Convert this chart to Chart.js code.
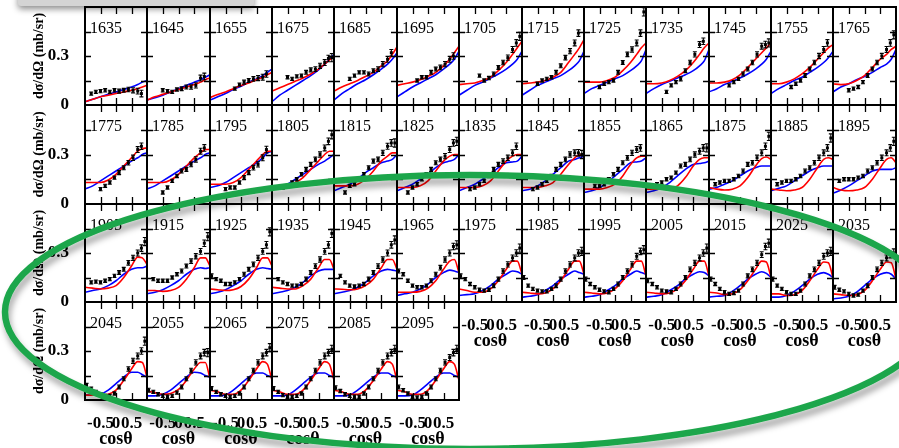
<!doctype html>
<html>
<head>
<meta charset="utf-8">
<script src="https://cdn.jsdelivr.net/npm/chart.js@4/dist/chart.umd.min.js"></script>
<style>
  html, body { margin: 0; padding: 0; background: #fff; }
  #stage { position: relative; width: 899px; height: 448px; overflow: hidden; }
  #stage canvas { position: absolute; }
  #tab { position: absolute; left: 18px; top: -8px; width: 236px; height: 14px; background: #d4d4d4;
         border-radius: 3px; box-shadow: 0 3px 6px rgba(0,0,0,0.45); z-index: 5; }
  #ring { position: absolute; left: 0; top: 0; pointer-events: none; z-index: 10; }
</style>
</head>
<body>
<div id="stage">
  <div id="tab"></div>
  <svg id="ring" width="899" height="448">
    <defs>
      <filter id="sh" x="-10%" y="-20%" width="120%" height="150%">
        <feDropShadow dx="2" dy="6" stdDeviation="3" flood-color="#000" flood-opacity="0.35"/>
      </filter>
    </defs>
    <ellipse cx="470" cy="312" rx="465" ry="137" fill="none" stroke="#1fa64b" stroke-width="6.5" filter="url(#sh)"/>
  </svg>
</div>
<script>
const n = null;
const energies = [1635,1645,1655,1675,1685,1695,1705,1715,1725,1735,1745,1755,1765,
                  1775,1785,1795,1805,1815,1825,1835,1845,1855,1865,1875,1885,1895,
                  1905,1915,1925,1935,1945,1965,1975,1985,1995,2005,2015,2025,2035,
                  2045,2055,2065,2075,2085,2095];
const dataCos  = [-0.95,-0.8,-0.65,-0.5,-0.35,-0.2,-0.05,0.1,0.25,0.4,0.55,0.7,0.82,0.93];
const dataErr  = [0.012,0.01,0.01,0.01,0.01,0.01,0.01,0.012,0.012,0.014,0.016,0.018,0.02,0.025];
const curveCos = [-1,-0.75,-0.5,-0.25,0,0.25,0.5,0.7,0.85,1];
const xTicks = [-0.5, 0, 0.5];
const yTicks = [0, 0.3];

const measured = [
  [n,0.07,0.08,0.085,0.09,0.08,0.09,0.085,0.09,0.095,0.09,0.085,0.07,n],
  [n,n,n,0.09,0.085,0.08,0.095,0.1,0.11,0.11,0.12,0.165,0.175,n],
  [n,n,n,n,n,0.1,0.125,0.14,0.15,0.16,0.165,0.17,0.19,n],
  [n,n,n,0.17,0.16,0.175,0.18,0.2,0.215,0.22,0.24,0.26,0.285,0.29],
  [n,n,n,0.16,0.18,0.2,0.2,0.19,0.21,0.22,0.25,0.28,0.32,n],
  [n,n,n,n,0.15,0.17,0.17,0.2,0.22,0.23,0.25,0.28,0.3,n],
  [n,n,n,n,0.18,0.15,0.165,0.19,0.23,0.26,0.29,0.34,0.38,0.42],
  [n,n,n,0.13,0.15,0.16,0.17,0.2,0.24,0.29,0.33,0.38,0.44,n],
  [n,n,n,0.11,0.13,0.14,0.15,0.2,0.26,0.31,0.34,0.38,0.44,0.57],
  [n,n,n,n,0.08,0.12,0.14,0.16,0.21,0.26,0.31,0.37,0.39,n],
  [n,n,n,n,0.12,0.14,0.16,0.19,0.22,0.26,0.31,0.36,0.37,0.38],
  [n,n,n,n,0.11,0.13,0.15,0.18,0.22,0.26,0.3,0.34,0.38,n],
  [n,n,n,0.09,0.1,0.11,0.14,0.18,0.22,0.26,0.3,0.34,0.38,0.43],
  [n,n,n,0.09,0.11,0.13,0.16,0.19,0.22,0.25,0.28,0.33,0.35,n],
  [n,n,n,0.07,0.1,0.14,0.17,0.2,0.21,0.24,0.27,0.32,0.34,n],
  [n,n,n,0.09,0.1,0.1,0.13,0.16,0.19,0.22,0.24,0.28,0.33,n],
  [n,n,0.1,0.11,0.13,0.15,0.18,0.21,0.24,0.27,0.3,0.34,0.38,0.42],
  [n,n,0.07,0.11,0.12,0.15,0.18,0.22,0.26,0.27,0.31,0.35,0.37,0.37],
  [n,n,0.07,0.1,0.12,0.15,0.18,0.21,0.25,0.27,0.29,0.33,0.37,0.38],
  [n,n,0.09,0.1,0.12,0.14,0.17,0.21,0.24,0.26,0.28,0.31,0.35,n],
  [n,n,0.09,0.1,0.12,0.14,0.17,0.21,0.24,0.27,0.3,0.31,0.31,0.3],
  [n,n,0.11,0.11,0.12,0.15,0.18,0.21,0.25,0.28,0.31,0.33,0.34,n],
  [n,0.11,0.12,0.13,0.15,0.16,0.19,0.23,0.24,0.27,0.3,0.32,0.34,0.34],
  [n,0.12,0.13,0.14,0.14,0.15,0.17,0.2,0.24,0.25,0.28,0.31,0.35,0.41],
  [n,0.12,0.13,0.14,0.14,0.15,0.17,0.2,0.22,0.25,0.28,0.31,0.34,0.4],
  [n,0.14,0.15,0.15,0.15,0.16,0.17,0.2,0.22,0.25,0.28,0.31,0.34,0.38],
  [n,0.12,0.125,0.12,0.13,0.14,0.16,0.18,0.2,0.24,0.27,0.3,0.33,0.37],
  [n,0.14,0.13,0.13,0.13,0.15,0.17,0.19,0.22,0.25,0.28,0.31,0.36,0.4],
  [0.16,0.14,0.13,0.11,0.11,0.12,0.14,0.17,0.2,0.23,0.27,0.31,0.35,0.43],
  [n,0.14,0.12,0.11,0.1,0.1,0.11,0.14,0.18,0.22,0.26,0.31,0.35,0.42],
  [n,0.16,0.12,0.1,0.095,0.1,0.11,0.14,0.18,0.22,0.26,0.3,0.35,0.38],
  [0.19,0.17,0.13,0.1,0.09,0.09,0.1,0.13,0.17,0.21,0.26,0.3,0.34,0.35],
  [0.16,0.14,0.11,0.09,0.075,0.07,0.075,0.1,0.14,0.19,0.23,0.27,0.3,0.33],
  [0.15,0.1,0.08,0.07,0.065,0.065,0.08,0.1,0.14,0.19,0.23,0.27,0.3,0.31],
  [0.14,0.11,0.09,0.075,0.065,0.06,0.08,0.11,0.15,0.19,0.23,0.28,0.31,0.32],
  [0.13,0.11,0.09,0.07,0.065,0.06,0.08,0.11,0.15,0.2,0.24,0.27,0.3,0.33],
  [0.14,0.11,0.08,0.06,0.05,0.055,0.07,0.11,0.16,0.2,0.24,0.29,0.34,0.36],
  [0.14,0.1,0.08,0.06,0.05,0.05,0.07,0.11,0.16,0.2,0.24,0.28,0.3,0.31],
  [0.09,0.075,0.065,0.05,0.04,0.045,0.07,0.1,0.15,0.2,0.24,0.27,0.29,0.3],
  [0.09,0.07,0.05,0.035,0.025,0.025,0.04,0.08,0.13,0.19,0.24,0.27,0.3,0.36],
  [0.06,0.05,0.035,0.025,0.02,0.025,0.045,0.08,0.13,0.18,0.23,0.27,0.29,0.29],
  [0.07,0.05,0.035,0.025,0.02,0.025,0.04,0.08,0.13,0.18,0.23,0.27,0.29,0.32],
  [0.07,0.05,0.03,0.02,0.02,0.025,0.04,0.08,0.13,0.18,0.23,0.27,0.29,0.31],
  [0.075,0.055,0.035,0.025,0.02,0.02,0.04,0.08,0.13,0.18,0.23,0.27,0.29,0.31],
  [0.08,0.06,0.04,0.02,0.015,0.02,0.04,0.08,0.13,0.18,0.23,0.26,0.29,0.31]
];

const redFit = [
  [0.02,0.035,0.05,0.06,0.07,0.08,0.09,0.1,0.11,0.12],
  [0.03,0.05,0.065,0.08,0.095,0.11,0.125,0.14,0.155,0.165],
  [0.045,0.065,0.08,0.1,0.12,0.135,0.155,0.17,0.185,0.2],
  [0.085,0.105,0.125,0.145,0.165,0.19,0.22,0.25,0.275,0.3],
  [0.085,0.11,0.13,0.15,0.175,0.2,0.24,0.27,0.31,0.355],
  [0.12,0.13,0.14,0.155,0.175,0.2,0.24,0.28,0.32,0.36],
  [0.125,0.13,0.135,0.15,0.17,0.21,0.26,0.31,0.35,0.39],
  [0.13,0.135,0.14,0.15,0.17,0.2,0.26,0.31,0.35,0.4],
  [0.14,0.14,0.14,0.15,0.17,0.21,0.26,0.31,0.35,0.38],
  [0.13,0.13,0.135,0.15,0.175,0.21,0.26,0.31,0.35,0.38],
  [0.135,0.135,0.14,0.155,0.185,0.23,0.28,0.32,0.35,0.38],
  [0.13,0.13,0.14,0.16,0.19,0.23,0.28,0.32,0.35,0.37],
  [0.13,0.125,0.13,0.15,0.18,0.23,0.28,0.31,0.34,0.36],
  [0.13,0.13,0.13,0.145,0.18,0.23,0.28,0.32,0.335,0.34],
  [0.13,0.13,0.13,0.145,0.18,0.23,0.28,0.31,0.33,0.33],
  [0.12,0.12,0.12,0.13,0.16,0.21,0.26,0.3,0.32,0.32],
  [0.11,0.11,0.115,0.13,0.16,0.21,0.26,0.3,0.32,0.32],
  [0.11,0.11,0.11,0.12,0.15,0.2,0.26,0.29,0.31,0.31],
  [0.1,0.1,0.1,0.11,0.14,0.2,0.26,0.29,0.3,0.3],
  [0.1,0.1,0.1,0.11,0.14,0.2,0.26,0.29,0.3,0.3],
  [0.1,0.1,0.1,0.11,0.13,0.18,0.24,0.28,0.3,0.3],
  [0.09,0.09,0.09,0.1,0.12,0.17,0.24,0.28,0.29,0.29],
  [0.09,0.09,0.09,0.095,0.11,0.16,0.23,0.27,0.28,0.28],
  [0.1,0.09,0.085,0.09,0.11,0.16,0.23,0.275,0.285,0.27],
  [0.09,0.085,0.08,0.085,0.1,0.15,0.22,0.27,0.28,0.27],
  [0.1,0.085,0.08,0.085,0.1,0.15,0.22,0.27,0.28,0.25],
  [0.09,0.085,0.08,0.085,0.1,0.15,0.22,0.275,0.27,0.23],
  [0.07,0.07,0.065,0.07,0.09,0.14,0.21,0.27,0.27,0.22],
  [0.08,0.075,0.07,0.075,0.095,0.14,0.21,0.27,0.27,0.22],
  [0.09,0.085,0.08,0.08,0.1,0.14,0.21,0.26,0.26,0.2],
  [0.08,0.078,0.075,0.08,0.1,0.14,0.21,0.26,0.26,0.2],
  [0.06,0.06,0.06,0.065,0.085,0.13,0.2,0.25,0.26,0.18],
  [0.08,0.07,0.06,0.06,0.08,0.13,0.2,0.25,0.25,0.17],
  [0.06,0.055,0.05,0.055,0.08,0.13,0.2,0.25,0.25,0.17],
  [0.06,0.055,0.05,0.055,0.08,0.13,0.2,0.25,0.25,0.16],
  [0.06,0.055,0.05,0.055,0.08,0.13,0.2,0.25,0.25,0.16],
  [0.06,0.055,0.045,0.05,0.075,0.13,0.2,0.25,0.245,0.15],
  [0.05,0.05,0.04,0.045,0.07,0.13,0.2,0.245,0.24,0.15],
  [0.05,0.045,0.04,0.045,0.07,0.13,0.2,0.245,0.24,0.14],
  [0.03,0.03,0.03,0.035,0.06,0.12,0.19,0.235,0.23,0.14],
  [0.055,0.045,0.035,0.04,0.065,0.12,0.19,0.23,0.23,0.13],
  [0.06,0.05,0.035,0.035,0.06,0.12,0.19,0.235,0.22,0.12],
  [0.06,0.05,0.035,0.035,0.06,0.12,0.19,0.235,0.22,0.12],
  [0.06,0.05,0.035,0.035,0.06,0.12,0.19,0.235,0.22,0.12],
  [0.06,0.05,0.035,0.035,0.06,0.12,0.19,0.235,0.22,0.12]
];

const blueFit = [
  [0.02,0.035,0.05,0.065,0.08,0.095,0.11,0.125,0.14,0.15],
  [0.03,0.045,0.06,0.08,0.1,0.12,0.14,0.155,0.17,0.185],
  [0.03,0.05,0.07,0.095,0.115,0.14,0.16,0.18,0.2,0.22],
  [0.02,0.06,0.09,0.12,0.15,0.18,0.215,0.25,0.28,0.31],
  [0.03,0.07,0.1,0.13,0.155,0.185,0.22,0.25,0.28,0.32],
  [0.05,0.08,0.11,0.135,0.16,0.185,0.22,0.25,0.28,0.33],
  [0.06,0.09,0.12,0.14,0.165,0.19,0.22,0.25,0.28,0.33],
  [0.06,0.09,0.12,0.14,0.16,0.18,0.21,0.24,0.27,0.33],
  [0.07,0.1,0.12,0.14,0.16,0.18,0.21,0.24,0.27,0.34],
  [0.07,0.1,0.125,0.145,0.165,0.185,0.21,0.24,0.27,0.34],
  [0.08,0.1,0.125,0.145,0.165,0.19,0.22,0.25,0.28,0.33],
  [0.07,0.1,0.125,0.15,0.17,0.2,0.23,0.26,0.29,0.33],
  [0.08,0.11,0.13,0.155,0.175,0.2,0.23,0.25,0.28,0.34],
  [0.09,0.11,0.14,0.17,0.2,0.23,0.26,0.28,0.3,0.31],
  [0.09,0.11,0.14,0.17,0.2,0.23,0.26,0.28,0.3,0.31],
  [0.1,0.11,0.13,0.16,0.19,0.22,0.25,0.28,0.31,0.32],
  [0.09,0.1,0.12,0.15,0.18,0.21,0.24,0.26,0.28,0.3],
  [0.08,0.1,0.12,0.15,0.19,0.22,0.25,0.26,0.27,0.3],
  [0.08,0.1,0.12,0.15,0.18,0.22,0.25,0.26,0.27,0.3],
  [0.08,0.1,0.12,0.15,0.18,0.22,0.25,0.255,0.26,0.29],
  [0.08,0.09,0.11,0.14,0.18,0.22,0.26,0.27,0.28,0.29],
  [0.07,0.08,0.1,0.13,0.17,0.21,0.25,0.255,0.26,0.28],
  [0.07,0.08,0.1,0.13,0.17,0.21,0.24,0.245,0.25,0.26],
  [0.09,0.1,0.12,0.14,0.17,0.2,0.22,0.23,0.23,0.23],
  [0.08,0.095,0.11,0.14,0.17,0.2,0.22,0.23,0.23,0.23],
  [0.065,0.085,0.11,0.14,0.17,0.2,0.21,0.21,0.21,0.22],
  [0.06,0.07,0.08,0.1,0.13,0.17,0.2,0.21,0.21,0.22],
  [0.05,0.06,0.075,0.1,0.13,0.17,0.2,0.21,0.205,0.21],
  [0.05,0.06,0.075,0.1,0.13,0.17,0.2,0.21,0.205,0.2],
  [0.05,0.06,0.07,0.09,0.12,0.16,0.19,0.2,0.2,0.2],
  [0.05,0.06,0.07,0.09,0.12,0.16,0.19,0.2,0.195,0.19],
  [0.04,0.05,0.06,0.08,0.11,0.15,0.18,0.195,0.19,0.18],
  [0.04,0.045,0.05,0.07,0.1,0.14,0.17,0.19,0.185,0.17],
  [0.03,0.035,0.045,0.07,0.1,0.14,0.17,0.19,0.18,0.17],
  [0.03,0.035,0.045,0.07,0.1,0.14,0.17,0.19,0.18,0.17],
  [0.03,0.035,0.045,0.07,0.1,0.14,0.17,0.185,0.18,0.16],
  [0.03,0.035,0.04,0.065,0.1,0.14,0.17,0.185,0.175,0.15],
  [0.03,0.03,0.04,0.065,0.1,0.14,0.17,0.18,0.17,0.15],
  [0.02,0.025,0.035,0.06,0.1,0.14,0.17,0.18,0.17,0.14],
  [0.03,0.03,0.035,0.06,0.1,0.14,0.17,0.17,0.155,0.14],
  [0.025,0.025,0.035,0.06,0.1,0.14,0.17,0.165,0.15,0.14],
  [0.025,0.025,0.03,0.06,0.1,0.14,0.165,0.165,0.15,0.14],
  [0.025,0.025,0.03,0.06,0.1,0.14,0.165,0.165,0.15,0.14],
  [0.025,0.025,0.03,0.06,0.1,0.14,0.165,0.165,0.15,0.14],
  [0.025,0.025,0.03,0.06,0.1,0.14,0.165,0.165,0.15,0.14]
];

// grid geometry of the panel matrix
const COLS = 13, X0 = 85, PW = 62.36, Y0 = 7, PH = 98.3;
const colX = c => Math.round(X0 + PW * c);
const rowY = r => Math.round(Y0 + PH * r);
const serif = "'Liberation Serif', 'Times New Roman', serif";
const stage = document.getElementById('stage');
const ring = document.getElementById('ring');

// frame, inward ticks and energy label
function framePlugin(label) {
  return {
    id: 'frame',
    afterDatasetsDraw(chart) {
      const {ctx, chartArea: a, scales: {x, y}} = chart;
      ctx.save();
      ctx.strokeStyle = '#000';
      ctx.lineWidth = 1.3;
      ctx.beginPath();
      xTicks.forEach(v => {
        const px = Math.round(x.getPixelForValue(v)) + 0.5;
        ctx.moveTo(px, a.top); ctx.lineTo(px, a.top + 7);
        ctx.moveTo(px, a.bottom); ctx.lineTo(px, a.bottom - 7);
      });
      [0.15, 0.3, 0.45].forEach(v => {
        const py = Math.round(y.getPixelForValue(v)) + 0.5;
        ctx.moveTo(a.left, py); ctx.lineTo(a.left + 6, py);
        ctx.moveTo(a.right, py); ctx.lineTo(a.right - 6, py);
      });
      ctx.stroke();
      ctx.lineWidth = 2;
      ctx.strokeRect(a.left, a.top, a.right - a.left, a.bottom - a.top);
      ctx.fillStyle = '#000';
      ctx.font = '16px ' + serif;
      ctx.textBaseline = 'alphabetic';
      ctx.fillText(label, a.left + 5, a.top + 26);
      ctx.restore();
    }
  };
}

const errorBars = {
  id: 'errorBars',
  afterDatasetsDraw(chart) {
    const {ctx, scales: {x, y}} = chart;
    ctx.save();
    ctx.strokeStyle = '#000';
    ctx.lineWidth = 1.1;
    ctx.beginPath();
    chart.data.datasets[0].data.forEach(p => {
      const px = x.getPixelForValue(p.x);
      const y1 = y.getPixelForValue(p.y - p.e), y2 = y.getPixelForValue(p.y + p.e);
      ctx.moveTo(px, y1); ctx.lineTo(px, y2);
      ctx.moveTo(px - 2, y1); ctx.lineTo(px + 2, y1);
      ctx.moveTo(px - 2, y2); ctx.lineTo(px + 2, y2);
    });
    ctx.stroke();
    ctx.restore();
  }
};

function makePanel(i) {
  const r = Math.floor(i / COLS), c = i % COLS;
  const L = colX(c), R = colX(c + 1), T = rowY(r), B = rowY(r + 1);
  const firstCol = c === 0;
  const labelled = i + COLS >= energies.length;   // nothing below this panel
  const padL = firstCol ? L : 14, padR = 14, padT = 22;
  const padB = labelled ? 52 : 22;
  const w = padL + (R - L) + padR, h = padT + (B - T) + padB;

  const cv = document.createElement('canvas');
  cv.width = w; cv.height = h;
  cv.style.left = (L - padL) + 'px'; cv.style.top = (T - padT) + 'px';
  cv.style.width = w + 'px'; cv.style.height = h + 'px';
  stage.insertBefore(cv, ring);

  const pts = dataCos.map((x, k) => ({x, y: measured[i][k], e: dataErr[k]})).filter(p => p.y !== null);
  const line = arr => curveCos.map((x, k) => ({x, y: arr[k]}));

  new Chart(cv, {
    type: 'line',
    data: {
      datasets: [
        {data: pts, showLine: false, pointStyle: 'rect', pointRadius: 2.1,
         pointBackgroundColor: '#000', pointBorderWidth: 0},
        {data: line(redFit[i]), borderColor: '#ff0000', borderWidth: 1.6, pointRadius: 0,
         cubicInterpolationMode: 'monotone', fill: false},
        {data: line(blueFit[i]), borderColor: '#0000ff', borderWidth: 1.6, pointRadius: 0,
         cubicInterpolationMode: 'monotone', fill: false}
      ]
    },
    options: {
      responsive: false, animation: false, events: [],
      layout: {padding: {left: firstCol ? 0 : padL, top: padT, right: padR, bottom: labelled ? 2 : padB}},
      plugins: {legend: {display: false}, tooltip: {enabled: false}},
      scales: {
        x: {
          type: 'linear', min: -1, max: 1, display: labelled,
          grid: {display: false}, border: {display: false},
          afterBuildTicks: s => { s.ticks = xTicks.map(v => ({value: v})); },
          afterFit: s => { if (labelled) s.height = 50; },
          ticks: {autoSkip: false, maxRotation: 0, padding: 5, color: '#000',
                  font: {family: serif, weight: 'bold', size: 17}, callback: v => String(v)},
          title: {display: true, text: 'cosθ', color: '#000', padding: 0,
                  font: {family: serif, weight: 'bold', size: 18}}
        },
        y: {
          min: 0, max: 0.6, display: firstCol,
          grid: {display: false}, border: {display: false},
          afterBuildTicks: s => { s.ticks = yTicks.map(v => ({value: v})); },
          afterFit: s => { if (firstCol) s.width = padL; },
          ticks: {padding: 8, color: '#000', font: {family: serif, weight: 'bold', size: 17},
                  callback: v => String(v)},
          title: {display: true, text: 'dσ/dΩ (mb/sr)', color: '#000', padding: {top: 31, bottom: 0},
                  font: {family: serif, weight: 'bold', size: 14}}
        }
      }
    },
    plugins: [framePlugin(String(energies[i])), errorBars]
  });
}

energies.forEach((e, i) => makePanel(i));
</script>
</body>
</html>
